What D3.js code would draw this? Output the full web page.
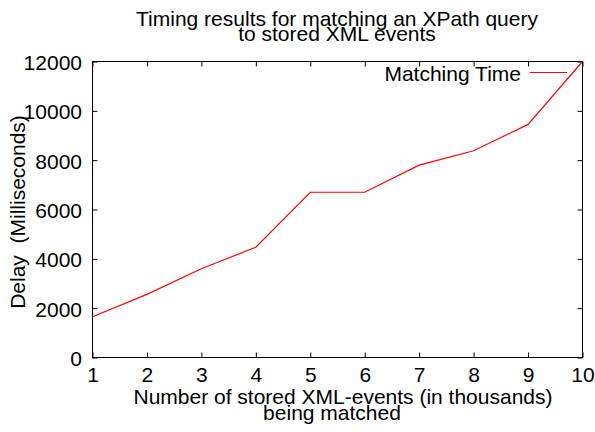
<!DOCTYPE html>
<html>
<head>
<meta charset="utf-8">
<script src="https://cdn.jsdelivr.net/npm/d3@7"></script>
<style>
  html, body { margin: 0; padding: 0; background: #fff; }
  svg { display: block; font-family: "Liberation Sans", Arial, Helvetica, sans-serif; }
</style>
</head>
<body>
<svg id="chart" width="595" height="432"></svg>
<script>
// Data
const xValues = [1, 2, 3, 4, 5, 6, 7, 8, 9, 10];
const matchingTime = [1650, 2560, 3600, 4470, 6700, 6700, 7800, 8380, 9450, 12000];
const xTicks = [1, 2, 3, 4, 5, 6, 7, 8, 9, 10];
const yTicks = [0, 2000, 4000, 6000, 8000, 10000, 12000];
const titleLines = ["Timing results for matching an XPath query", "to stored XML events"];
const xLabelLines = ["Number of stored XML-events (in thousands)", "being matched"];
const yLabel = "Delay  (Milliseconds)";
const seriesName = "Matching Time";

const svg = d3.select("#chart");
const L = 92.5, R = 582.5, T = 61.5, B = 357.5;
const FS = 21;

const x = d3.scaleLinear().domain([1, 10]).range([L, R]);
const y = d3.scaleLinear().domain([0, 12000]).range([B, T]);

function styleAxis(g) {
  g.select(".domain").remove();
  g.selectAll(".tick line").attr("stroke", "#000").attr("stroke-width", 1);
}

// Bottom axis
const gx = svg.append("g").attr("transform", `translate(0,${B})`)
  .call(d3.axisBottom(x).tickValues(xTicks).tickSize(-5).tickSizeOuter(0).tickFormat(d3.format("d")));
styleAxis(gx);
gx.selectAll(".tick text").attr("y", 24.5).attr("dy", 0)
  .attr("font-size", FS).attr("font-family", null).attr("fill", "#000");

// Top axis (mirror ticks)
const gxt = svg.append("g").attr("transform", `translate(0,${T})`)
  .call(d3.axisTop(x).tickValues(xTicks).tickSize(-5).tickSizeOuter(0).tickFormat(""));
styleAxis(gxt);

// Left axis
const gy = svg.append("g").attr("transform", `translate(${L},0)`)
  .call(d3.axisLeft(y).tickValues(yTicks).tickSize(-5).tickSizeOuter(0).tickFormat(d3.format("d")));
styleAxis(gy);
gy.selectAll(".tick text").attr("x", -10.5).attr("dy", 8)
  .attr("font-size", FS).attr("font-family", null).attr("fill", "#000");

// Right axis (mirror ticks)
const gyr = svg.append("g").attr("transform", `translate(${R},0)`)
  .call(d3.axisRight(y).tickValues(yTicks).tickSize(-5).tickSizeOuter(0).tickFormat(""));
styleAxis(gyr);

// Frame
svg.append("rect").attr("x", L).attr("y", T).attr("width", R - L).attr("height", B - T)
  .attr("fill", "none").attr("stroke", "#000").attr("stroke-width", 1);

// Line
const line = d3.line().x((d, i) => x(xValues[i])).y(d => y(d));
svg.append("path").datum(matchingTime)
  .attr("d", line).attr("fill", "none").attr("stroke", "#ff0000").attr("stroke-width", 1.2);

// Legend
svg.append("text").attr("x", 521).attr("y", 81).attr("text-anchor", "end")
  .attr("font-size", FS).attr("fill", "#000").text(seriesName);
svg.append("line").attr("x1", 530).attr("x2", 567).attr("y1", 72.5).attr("y2", 72.5)
  .attr("stroke", "#ff0000").attr("stroke-width", 1.2);

// Title
const titleY = [26, 41];
titleLines.forEach((t, i) => {
  svg.append("text").attr("x", 337).attr("y", titleY[i]).attr("text-anchor", "middle")
    .attr("font-size", FS).attr("fill", "#000").text(t);
});

// X label
const xlX = [343, 332], xlY = [404, 420];
xLabelLines.forEach((t, i) => {
  svg.append("text").attr("x", xlX[i]).attr("y", xlY[i]).attr("text-anchor", "middle")
    .attr("font-size", FS).attr("fill", "#000").text(t);
});

// Y label
svg.append("text").attr("transform", "translate(25,212) rotate(-90)")
  .attr("text-anchor", "middle").attr("font-size", FS).attr("fill", "#000")
  .style("white-space", "pre").text(yLabel);
</script>
</body>
</html>
